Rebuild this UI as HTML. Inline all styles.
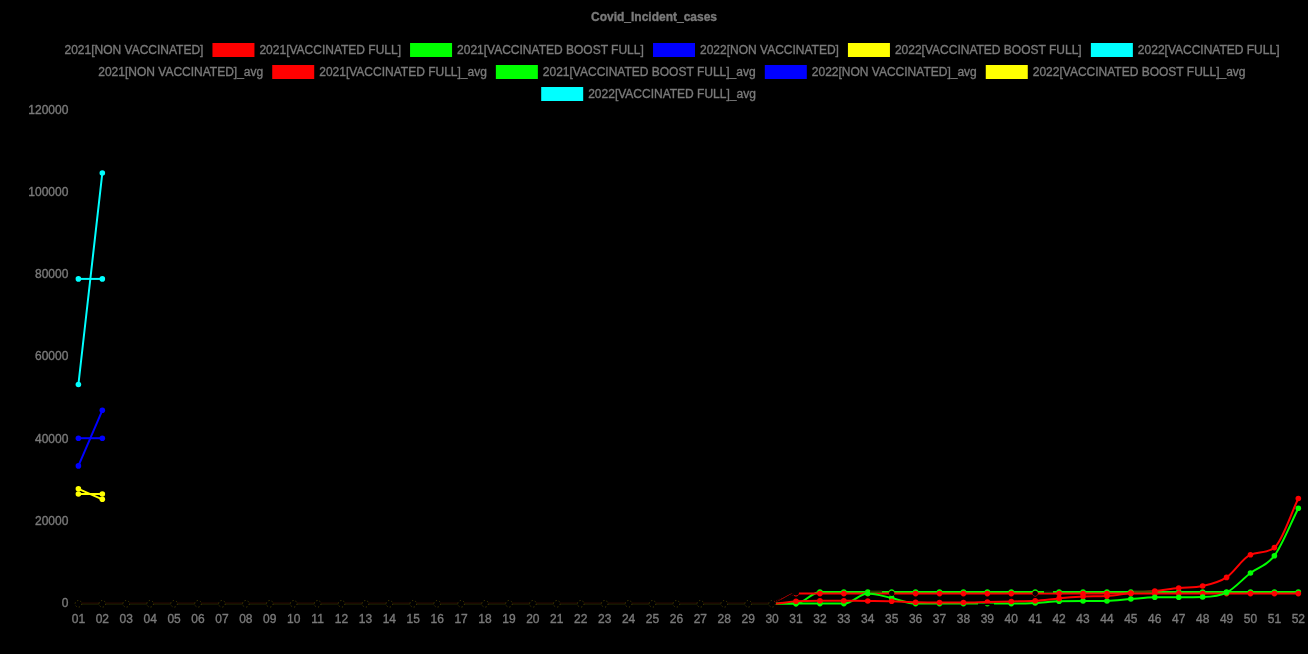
<!DOCTYPE html>
<html><head><meta charset="utf-8"><style>
html,body{margin:0;padding:0;background:#000;width:1308px;height:654px;overflow:hidden}
.wrap{position:absolute;left:0;top:0;width:1308px;height:654px;will-change:transform}
svg{display:block}
</style></head><body><div class="wrap">
<svg width="1308" height="654" viewBox="0 0 1308 654">
<rect width="1308" height="654" fill="#000"/>
<g font-family="Liberation Sans, sans-serif" font-size="12" fill="#7a7a7a" stroke="#7a7a7a" stroke-width="0.35">
<text x="654" y="21" text-anchor="middle" font-weight="bold">Covid_Incident_cases</text>
<text x="64.53" y="54">2021[NON VACCINATED]</text>
<rect x="212.45" y="43" width="42" height="14" fill="#ff0000" stroke="none"/>
<text x="259.45" y="54">2021[VACCINATED FULL]</text>
<rect x="410.06" y="43" width="42" height="14" fill="#00ff00" stroke="none"/>
<text x="457.06" y="54">2021[VACCINATED BOOST FULL]</text>
<rect x="653.00" y="43" width="42" height="14" fill="#0000ff" stroke="none"/>
<text x="700.00" y="54">2022[NON VACCINATED]</text>
<rect x="847.93" y="43" width="42" height="14" fill="#ffff00" stroke="none"/>
<text x="894.93" y="54">2022[VACCINATED BOOST FULL]</text>
<rect x="1090.87" y="43" width="42" height="14" fill="#00ffff" stroke="none"/>
<text x="1137.87" y="54">2022[VACCINATED FULL]</text>
<text x="98.28" y="76">2021[NON VACCINATED]_avg</text>
<rect x="272.22" y="65" width="42" height="14" fill="#ff0000" stroke="none"/>
<text x="319.22" y="76">2021[VACCINATED FULL]_avg</text>
<rect x="495.85" y="65" width="42" height="14" fill="#00ff00" stroke="none"/>
<text x="542.85" y="76">2021[VACCINATED BOOST FULL]_avg</text>
<rect x="764.81" y="65" width="42" height="14" fill="#0000ff" stroke="none"/>
<text x="811.81" y="76">2022[NON VACCINATED]_avg</text>
<rect x="985.76" y="65" width="42" height="14" fill="#ffff00" stroke="none"/>
<text x="1032.76" y="76">2022[VACCINATED BOOST FULL]_avg</text>
<rect x="541.19" y="87" width="42" height="14" fill="#00ffff" stroke="none"/>
<text x="588.19" y="98">2022[VACCINATED FULL]_avg</text>
<text x="68.4" y="114" text-anchor="end">120000</text>
<text x="68.4" y="196" text-anchor="end">100000</text>
<text x="68.4" y="278" text-anchor="end">80000</text>
<text x="68.4" y="360" text-anchor="end">60000</text>
<text x="68.4" y="443" text-anchor="end">40000</text>
<text x="68.4" y="525" text-anchor="end">20000</text>
<text x="68.4" y="607" text-anchor="end">0</text>
<text x="78.40" y="623" text-anchor="middle">01</text>
<text x="102.32" y="623" text-anchor="middle">02</text>
<text x="126.24" y="623" text-anchor="middle">03</text>
<text x="150.16" y="623" text-anchor="middle">04</text>
<text x="174.08" y="623" text-anchor="middle">05</text>
<text x="198.00" y="623" text-anchor="middle">06</text>
<text x="221.92" y="623" text-anchor="middle">07</text>
<text x="245.84" y="623" text-anchor="middle">08</text>
<text x="269.76" y="623" text-anchor="middle">09</text>
<text x="293.68" y="623" text-anchor="middle">10</text>
<text x="317.60" y="623" text-anchor="middle">11</text>
<text x="341.52" y="623" text-anchor="middle">12</text>
<text x="365.44" y="623" text-anchor="middle">13</text>
<text x="389.36" y="623" text-anchor="middle">14</text>
<text x="413.28" y="623" text-anchor="middle">15</text>
<text x="437.20" y="623" text-anchor="middle">16</text>
<text x="461.12" y="623" text-anchor="middle">17</text>
<text x="485.04" y="623" text-anchor="middle">18</text>
<text x="508.96" y="623" text-anchor="middle">19</text>
<text x="532.88" y="623" text-anchor="middle">20</text>
<text x="556.80" y="623" text-anchor="middle">21</text>
<text x="580.72" y="623" text-anchor="middle">22</text>
<text x="604.64" y="623" text-anchor="middle">23</text>
<text x="628.56" y="623" text-anchor="middle">24</text>
<text x="652.48" y="623" text-anchor="middle">25</text>
<text x="676.40" y="623" text-anchor="middle">26</text>
<text x="700.32" y="623" text-anchor="middle">27</text>
<text x="724.24" y="623" text-anchor="middle">28</text>
<text x="748.16" y="623" text-anchor="middle">29</text>
<text x="772.08" y="623" text-anchor="middle">30</text>
<text x="796.00" y="623" text-anchor="middle">31</text>
<text x="819.92" y="623" text-anchor="middle">32</text>
<text x="843.84" y="623" text-anchor="middle">33</text>
<text x="867.76" y="623" text-anchor="middle">34</text>
<text x="891.68" y="623" text-anchor="middle">35</text>
<text x="915.60" y="623" text-anchor="middle">36</text>
<text x="939.52" y="623" text-anchor="middle">37</text>
<text x="963.44" y="623" text-anchor="middle">38</text>
<text x="987.36" y="623" text-anchor="middle">39</text>
<text x="1011.28" y="623" text-anchor="middle">40</text>
<text x="1035.20" y="623" text-anchor="middle">41</text>
<text x="1059.12" y="623" text-anchor="middle">42</text>
<text x="1083.04" y="623" text-anchor="middle">43</text>
<text x="1106.96" y="623" text-anchor="middle">44</text>
<text x="1130.88" y="623" text-anchor="middle">45</text>
<text x="1154.80" y="623" text-anchor="middle">46</text>
<text x="1178.72" y="623" text-anchor="middle">47</text>
<text x="1202.64" y="623" text-anchor="middle">48</text>
<text x="1226.56" y="623" text-anchor="middle">49</text>
<text x="1250.48" y="623" text-anchor="middle">50</text>
<text x="1274.40" y="623" text-anchor="middle">51</text>
<text x="1298.32" y="623" text-anchor="middle">52</text>
</g>
<g>
<path d="M78.40,278.90 C86.37,278.90 94.35,278.90 102.32,278.90" fill="none" stroke="#00ffff" stroke-width="2" />
<circle cx="78.40" cy="278.90" r="2.8" fill="#00ffff"/>
<circle cx="102.32" cy="278.90" r="2.8" fill="#00ffff"/>
<path d="M78.40,494.00 C86.37,494.00 94.35,494.00 102.32,494.00" fill="none" stroke="#ffff00" stroke-width="2" />
<circle cx="78.40" cy="494.00" r="2.8" fill="#ffff00"/>
<circle cx="102.32" cy="494.00" r="2.8" fill="#ffff00"/>
<path d="M78.40,438.20 C86.37,438.20 94.35,438.20 102.32,438.20" fill="none" stroke="#0000ff" stroke-width="2" />
<circle cx="78.40" cy="438.20" r="2.8" fill="#0000ff"/>
<circle cx="102.32" cy="438.20" r="2.8" fill="#0000ff"/>
<path d="M78.40,603.60 C86.37,603.60 94.35,603.60 102.32,603.60 C110.29,603.60 118.27,603.60 126.24,603.60 C134.21,603.60 142.19,603.60 150.16,603.60 C158.13,603.60 166.11,603.60 174.08,603.60 C182.05,603.60 190.03,603.60 198.00,603.60 C205.97,603.60 213.95,603.60 221.92,603.60 C229.89,603.60 237.87,603.60 245.84,603.60 C253.81,603.60 261.79,603.60 269.76,603.60 C277.73,603.60 285.71,603.60 293.68,603.60 C301.65,603.60 309.63,603.60 317.60,603.60 C325.57,603.60 333.55,603.60 341.52,603.60 C349.49,603.60 357.47,603.60 365.44,603.60 C373.41,603.60 381.39,603.60 389.36,603.60 C397.33,603.60 405.31,603.60 413.28,603.60 C421.25,603.60 429.23,603.60 437.20,603.60 C445.17,603.60 453.15,603.60 461.12,603.60 C469.09,603.60 477.07,603.60 485.04,603.60 C493.01,603.60 500.99,603.60 508.96,603.60 C516.93,603.60 524.91,603.60 532.88,603.60 C540.85,603.60 548.83,603.60 556.80,603.60 C564.77,603.60 572.75,603.60 580.72,603.60 C588.69,603.60 596.67,603.60 604.64,603.60 C612.61,603.60 620.59,603.60 628.56,603.60 C636.53,603.60 644.51,603.60 652.48,603.60 C660.45,603.60 668.43,603.60 676.40,603.60 C684.37,603.60 692.35,603.60 700.32,603.60 C708.29,603.60 716.27,603.60 724.24,603.60 C732.21,603.60 740.19,603.60 748.16,603.60 C756.13,603.60 764.11,603.60 772.08,603.60 C780.05,603.60 788.03,603.60 796.00,603.60 C803.97,603.60 811.95,592.00 819.92,592.00 C827.89,592.00 835.87,592.00 843.84,592.00 C851.81,592.00 859.79,592.00 867.76,592.00 C875.73,592.00 883.71,592.00 891.68,592.00 C899.65,592.00 907.63,592.00 915.60,592.00 C923.57,592.00 931.55,592.00 939.52,592.00 C947.49,592.00 955.47,592.00 963.44,592.00 C971.41,592.00 979.39,592.00 987.36,592.00 C995.33,592.00 1003.31,592.00 1011.28,592.00 C1019.25,592.00 1027.23,592.00 1035.20,592.00 C1043.17,592.00 1051.15,592.00 1059.12,592.00 C1067.09,592.00 1075.07,592.00 1083.04,592.00 C1091.01,592.00 1098.99,592.00 1106.96,592.00 C1114.93,592.00 1122.91,592.00 1130.88,592.00 C1138.85,592.00 1146.83,592.00 1154.80,592.00 C1162.77,592.00 1170.75,592.00 1178.72,592.00 C1186.69,592.00 1194.67,592.00 1202.64,592.00 C1210.61,592.00 1218.59,592.00 1226.56,592.00 C1234.53,592.00 1242.51,592.00 1250.48,592.00 C1258.45,592.00 1266.43,592.00 1274.40,592.00 C1282.37,592.00 1290.35,592.00 1298.32,592.00" fill="none" stroke="#00ff00" stroke-width="2" />
<circle cx="78.40" cy="603.60" r="2.8" fill="#00ff00"/>
<circle cx="102.32" cy="603.60" r="2.8" fill="#00ff00"/>
<circle cx="126.24" cy="603.60" r="2.8" fill="#00ff00"/>
<circle cx="150.16" cy="603.60" r="2.8" fill="#00ff00"/>
<circle cx="174.08" cy="603.60" r="2.8" fill="#00ff00"/>
<circle cx="198.00" cy="603.60" r="2.8" fill="#00ff00"/>
<circle cx="221.92" cy="603.60" r="2.8" fill="#00ff00"/>
<circle cx="245.84" cy="603.60" r="2.8" fill="#00ff00"/>
<circle cx="269.76" cy="603.60" r="2.8" fill="#00ff00"/>
<circle cx="293.68" cy="603.60" r="2.8" fill="#00ff00"/>
<circle cx="317.60" cy="603.60" r="2.8" fill="#00ff00"/>
<circle cx="341.52" cy="603.60" r="2.8" fill="#00ff00"/>
<circle cx="365.44" cy="603.60" r="2.8" fill="#00ff00"/>
<circle cx="389.36" cy="603.60" r="2.8" fill="#00ff00"/>
<circle cx="413.28" cy="603.60" r="2.8" fill="#00ff00"/>
<circle cx="437.20" cy="603.60" r="2.8" fill="#00ff00"/>
<circle cx="461.12" cy="603.60" r="2.8" fill="#00ff00"/>
<circle cx="485.04" cy="603.60" r="2.8" fill="#00ff00"/>
<circle cx="508.96" cy="603.60" r="2.8" fill="#00ff00"/>
<circle cx="532.88" cy="603.60" r="2.8" fill="#00ff00"/>
<circle cx="556.80" cy="603.60" r="2.8" fill="#00ff00"/>
<circle cx="580.72" cy="603.60" r="2.8" fill="#00ff00"/>
<circle cx="604.64" cy="603.60" r="2.8" fill="#00ff00"/>
<circle cx="628.56" cy="603.60" r="2.8" fill="#00ff00"/>
<circle cx="652.48" cy="603.60" r="2.8" fill="#00ff00"/>
<circle cx="676.40" cy="603.60" r="2.8" fill="#00ff00"/>
<circle cx="700.32" cy="603.60" r="2.8" fill="#00ff00"/>
<circle cx="724.24" cy="603.60" r="2.8" fill="#00ff00"/>
<circle cx="748.16" cy="603.60" r="2.8" fill="#00ff00"/>
<circle cx="772.08" cy="603.60" r="2.8" fill="#00ff00"/>
<circle cx="796.00" cy="603.60" r="2.8" fill="#00ff00"/>
<circle cx="819.92" cy="592.00" r="2.8" fill="#00ff00"/>
<circle cx="843.84" cy="592.00" r="2.8" fill="#00ff00"/>
<circle cx="867.76" cy="592.00" r="2.8" fill="#00ff00"/>
<circle cx="891.68" cy="592.00" r="2.8" fill="#00ff00"/>
<circle cx="915.60" cy="592.00" r="2.8" fill="#00ff00"/>
<circle cx="939.52" cy="592.00" r="2.8" fill="#00ff00"/>
<circle cx="963.44" cy="592.00" r="2.8" fill="#00ff00"/>
<circle cx="987.36" cy="592.00" r="2.8" fill="#00ff00"/>
<circle cx="1011.28" cy="592.00" r="2.8" fill="#00ff00"/>
<circle cx="1035.20" cy="592.00" r="2.8" fill="#00ff00"/>
<circle cx="1059.12" cy="592.00" r="2.8" fill="#00ff00"/>
<circle cx="1083.04" cy="592.00" r="2.8" fill="#00ff00"/>
<circle cx="1106.96" cy="592.00" r="2.8" fill="#00ff00"/>
<circle cx="1130.88" cy="592.00" r="2.8" fill="#00ff00"/>
<circle cx="1154.80" cy="592.00" r="2.8" fill="#00ff00"/>
<circle cx="1178.72" cy="592.00" r="2.8" fill="#00ff00"/>
<circle cx="1202.64" cy="592.00" r="2.8" fill="#00ff00"/>
<circle cx="1226.56" cy="592.00" r="2.8" fill="#00ff00"/>
<circle cx="1250.48" cy="592.00" r="2.8" fill="#00ff00"/>
<circle cx="1274.40" cy="592.00" r="2.8" fill="#00ff00"/>
<circle cx="1298.32" cy="592.00" r="2.8" fill="#00ff00"/>
<path d="M78.40,603.60 C86.37,603.60 94.35,603.60 102.32,603.60 C110.29,603.60 118.27,603.60 126.24,603.60 C134.21,603.60 142.19,603.60 150.16,603.60 C158.13,603.60 166.11,603.60 174.08,603.60 C182.05,603.60 190.03,603.60 198.00,603.60 C205.97,603.60 213.95,603.60 221.92,603.60 C229.89,603.60 237.87,603.60 245.84,603.60 C253.81,603.60 261.79,603.60 269.76,603.60 C277.73,603.60 285.71,603.60 293.68,603.60 C301.65,603.60 309.63,603.60 317.60,603.60 C325.57,603.60 333.55,603.60 341.52,603.60 C349.49,603.60 357.47,603.60 365.44,603.60 C373.41,603.60 381.39,603.60 389.36,603.60 C397.33,603.60 405.31,603.60 413.28,603.60 C421.25,603.60 429.23,603.60 437.20,603.60 C445.17,603.60 453.15,603.60 461.12,603.60 C469.09,603.60 477.07,603.60 485.04,603.60 C493.01,603.60 500.99,603.60 508.96,603.60 C516.93,603.60 524.91,603.60 532.88,603.60 C540.85,603.60 548.83,603.60 556.80,603.60 C564.77,603.60 572.75,603.60 580.72,603.60 C588.69,603.60 596.67,603.60 604.64,603.60 C612.61,603.60 620.59,603.60 628.56,603.60 C636.53,603.60 644.51,603.60 652.48,603.60 C660.45,603.60 668.43,603.60 676.40,603.60 C684.37,603.60 692.35,603.60 700.32,603.60 C708.29,603.60 716.27,603.60 724.24,603.60 C732.21,603.60 740.19,603.60 748.16,603.60 C756.13,603.60 764.11,603.60 772.08,603.60 C780.05,603.60 788.03,593.60 796.00,593.60 C803.97,593.60 811.95,593.60 819.92,593.60 C827.89,593.60 835.87,593.60 843.84,593.60 C851.81,593.60 859.79,593.60 867.76,593.60 C875.73,593.60 883.71,593.60 891.68,593.60 C899.65,593.60 907.63,593.60 915.60,593.60 C923.57,593.60 931.55,593.60 939.52,593.60 C947.49,593.60 955.47,593.60 963.44,593.60 C971.41,593.60 979.39,593.60 987.36,593.60 C995.33,593.60 1003.31,593.60 1011.28,593.60 C1019.25,593.60 1027.23,593.60 1035.20,593.60 C1043.17,593.60 1051.15,593.60 1059.12,593.60 C1067.09,593.60 1075.07,593.60 1083.04,593.60 C1091.01,593.60 1098.99,593.60 1106.96,593.60 C1114.93,593.60 1122.91,593.60 1130.88,593.60 C1138.85,593.60 1146.83,593.60 1154.80,593.60 C1162.77,593.60 1170.75,593.60 1178.72,593.60 C1186.69,593.60 1194.67,593.60 1202.64,593.60 C1210.61,593.60 1218.59,593.60 1226.56,593.60 C1234.53,593.60 1242.51,593.60 1250.48,593.60 C1258.45,593.60 1266.43,593.60 1274.40,593.60 C1282.37,593.60 1290.35,593.60 1298.32,593.60" fill="none" stroke="#ff0000" stroke-width="2" />
<circle cx="78.40" cy="603.60" r="2.8" fill="#ff0000"/>
<circle cx="102.32" cy="603.60" r="2.8" fill="#ff0000"/>
<circle cx="126.24" cy="603.60" r="2.8" fill="#ff0000"/>
<circle cx="150.16" cy="603.60" r="2.8" fill="#ff0000"/>
<circle cx="174.08" cy="603.60" r="2.8" fill="#ff0000"/>
<circle cx="198.00" cy="603.60" r="2.8" fill="#ff0000"/>
<circle cx="221.92" cy="603.60" r="2.8" fill="#ff0000"/>
<circle cx="245.84" cy="603.60" r="2.8" fill="#ff0000"/>
<circle cx="269.76" cy="603.60" r="2.8" fill="#ff0000"/>
<circle cx="293.68" cy="603.60" r="2.8" fill="#ff0000"/>
<circle cx="317.60" cy="603.60" r="2.8" fill="#ff0000"/>
<circle cx="341.52" cy="603.60" r="2.8" fill="#ff0000"/>
<circle cx="365.44" cy="603.60" r="2.8" fill="#ff0000"/>
<circle cx="389.36" cy="603.60" r="2.8" fill="#ff0000"/>
<circle cx="413.28" cy="603.60" r="2.8" fill="#ff0000"/>
<circle cx="437.20" cy="603.60" r="2.8" fill="#ff0000"/>
<circle cx="461.12" cy="603.60" r="2.8" fill="#ff0000"/>
<circle cx="485.04" cy="603.60" r="2.8" fill="#ff0000"/>
<circle cx="508.96" cy="603.60" r="2.8" fill="#ff0000"/>
<circle cx="532.88" cy="603.60" r="2.8" fill="#ff0000"/>
<circle cx="556.80" cy="603.60" r="2.8" fill="#ff0000"/>
<circle cx="580.72" cy="603.60" r="2.8" fill="#ff0000"/>
<circle cx="604.64" cy="603.60" r="2.8" fill="#ff0000"/>
<circle cx="628.56" cy="603.60" r="2.8" fill="#ff0000"/>
<circle cx="652.48" cy="603.60" r="2.8" fill="#ff0000"/>
<circle cx="676.40" cy="603.60" r="2.8" fill="#ff0000"/>
<circle cx="700.32" cy="603.60" r="2.8" fill="#ff0000"/>
<circle cx="724.24" cy="603.60" r="2.8" fill="#ff0000"/>
<circle cx="748.16" cy="603.60" r="2.8" fill="#ff0000"/>
<circle cx="772.08" cy="603.60" r="2.8" fill="#ff0000"/>
<circle cx="796.00" cy="593.60" r="2.8" fill="#ff0000"/>
<circle cx="819.92" cy="593.60" r="2.8" fill="#ff0000"/>
<circle cx="843.84" cy="593.60" r="2.8" fill="#ff0000"/>
<circle cx="867.76" cy="593.60" r="2.8" fill="#ff0000"/>
<circle cx="891.68" cy="593.60" r="2.8" fill="#ff0000"/>
<circle cx="915.60" cy="593.60" r="2.8" fill="#ff0000"/>
<circle cx="939.52" cy="593.60" r="2.8" fill="#ff0000"/>
<circle cx="963.44" cy="593.60" r="2.8" fill="#ff0000"/>
<circle cx="987.36" cy="593.60" r="2.8" fill="#ff0000"/>
<circle cx="1011.28" cy="593.60" r="2.8" fill="#ff0000"/>
<circle cx="1035.20" cy="593.60" r="2.8" fill="#ff0000"/>
<circle cx="1059.12" cy="593.60" r="2.8" fill="#ff0000"/>
<circle cx="1083.04" cy="593.60" r="2.8" fill="#ff0000"/>
<circle cx="1106.96" cy="593.60" r="2.8" fill="#ff0000"/>
<circle cx="1130.88" cy="593.60" r="2.8" fill="#ff0000"/>
<circle cx="1154.80" cy="593.60" r="2.8" fill="#ff0000"/>
<circle cx="1178.72" cy="593.60" r="2.8" fill="#ff0000"/>
<circle cx="1202.64" cy="593.60" r="2.8" fill="#ff0000"/>
<circle cx="1226.56" cy="593.60" r="2.8" fill="#ff0000"/>
<circle cx="1250.48" cy="593.60" r="2.8" fill="#ff0000"/>
<circle cx="1274.40" cy="593.60" r="2.8" fill="#ff0000"/>
<circle cx="1298.32" cy="593.60" r="2.8" fill="#ff0000"/>
<path d="M78.40,603.60 C86.37,603.60 94.35,603.60 102.32,603.60 C110.29,603.60 118.27,603.60 126.24,603.60 C134.21,603.60 142.19,603.60 150.16,603.60 C158.13,603.60 166.11,603.60 174.08,603.60 C182.05,603.60 190.03,603.60 198.00,603.60 C205.97,603.60 213.95,603.60 221.92,603.60 C229.89,603.60 237.87,603.60 245.84,603.60 C253.81,603.60 261.79,603.60 269.76,603.60 C277.73,603.60 285.71,603.60 293.68,603.60 C301.65,603.60 309.63,603.60 317.60,603.60 C325.57,603.60 333.55,603.60 341.52,603.60 C349.49,603.60 357.47,603.60 365.44,603.60 C373.41,603.60 381.39,603.60 389.36,603.60 C397.33,603.60 405.31,603.60 413.28,603.60 C421.25,603.60 429.23,603.60 437.20,603.60 C445.17,603.60 453.15,603.60 461.12,603.60 C469.09,603.60 477.07,603.60 485.04,603.60 C493.01,603.60 500.99,603.60 508.96,603.60 C516.93,603.60 524.91,603.60 532.88,603.60 C540.85,603.60 548.83,603.60 556.80,603.60 C564.77,603.60 572.75,603.60 580.72,603.60 C588.69,603.60 596.67,603.60 604.64,603.60 C612.61,603.60 620.59,603.60 628.56,603.60 C636.53,603.60 644.51,603.60 652.48,603.60 C660.45,603.60 668.43,603.60 676.40,603.60 C684.37,603.60 692.35,603.60 700.32,603.60 C708.29,603.60 716.27,603.60 724.24,603.60 C732.21,603.60 740.19,603.60 748.16,603.60 C756.13,603.60 764.11,603.60 772.08,603.60 C780.05,603.60 788.03,596.13 796.00,592.40" fill="none" stroke="#000" stroke-width="2" />
<circle cx="78.40" cy="603.60" r="3" fill="#000"/>
<circle cx="102.32" cy="603.60" r="3" fill="#000"/>
<circle cx="126.24" cy="603.60" r="3" fill="#000"/>
<circle cx="150.16" cy="603.60" r="3" fill="#000"/>
<circle cx="174.08" cy="603.60" r="3" fill="#000"/>
<circle cx="198.00" cy="603.60" r="3" fill="#000"/>
<circle cx="221.92" cy="603.60" r="3" fill="#000"/>
<circle cx="245.84" cy="603.60" r="3" fill="#000"/>
<circle cx="269.76" cy="603.60" r="3" fill="#000"/>
<circle cx="293.68" cy="603.60" r="3" fill="#000"/>
<circle cx="317.60" cy="603.60" r="3" fill="#000"/>
<circle cx="341.52" cy="603.60" r="3" fill="#000"/>
<circle cx="365.44" cy="603.60" r="3" fill="#000"/>
<circle cx="389.36" cy="603.60" r="3" fill="#000"/>
<circle cx="413.28" cy="603.60" r="3" fill="#000"/>
<circle cx="437.20" cy="603.60" r="3" fill="#000"/>
<circle cx="461.12" cy="603.60" r="3" fill="#000"/>
<circle cx="485.04" cy="603.60" r="3" fill="#000"/>
<circle cx="508.96" cy="603.60" r="3" fill="#000"/>
<circle cx="532.88" cy="603.60" r="3" fill="#000"/>
<circle cx="556.80" cy="603.60" r="3" fill="#000"/>
<circle cx="580.72" cy="603.60" r="3" fill="#000"/>
<circle cx="604.64" cy="603.60" r="3" fill="#000"/>
<circle cx="628.56" cy="603.60" r="3" fill="#000"/>
<circle cx="652.48" cy="603.60" r="3" fill="#000"/>
<circle cx="676.40" cy="603.60" r="3" fill="#000"/>
<circle cx="700.32" cy="603.60" r="3" fill="#000"/>
<circle cx="724.24" cy="603.60" r="3" fill="#000"/>
<circle cx="748.16" cy="603.60" r="3" fill="#000"/>
<circle cx="772.08" cy="603.60" r="3" fill="#000"/>
<circle cx="796.00" cy="592.40" r="3" fill="#000"/>
<path d="M78.40,384.50 C86.37,314.00 94.35,243.50 102.32,173.00" fill="none" stroke="#00ffff" stroke-width="2" />
<circle cx="78.40" cy="384.50" r="2.8" fill="#00ffff"/>
<circle cx="102.32" cy="173.00" r="2.8" fill="#00ffff"/>
<path d="M78.40,488.80 C86.37,492.30 94.35,495.80 102.32,499.30" fill="none" stroke="#ffff00" stroke-width="2" />
<circle cx="78.40" cy="488.80" r="2.8" fill="#ffff00"/>
<circle cx="102.32" cy="499.30" r="2.8" fill="#ffff00"/>
<path d="M78.40,465.90 C86.37,447.37 94.35,428.83 102.32,410.30" fill="none" stroke="#0000ff" stroke-width="2" />
<circle cx="78.40" cy="465.90" r="2.8" fill="#0000ff"/>
<circle cx="102.32" cy="410.30" r="2.8" fill="#0000ff"/>
<path d="M78.40,603.60 C86.37,603.60 94.35,603.60 102.32,603.60 C110.29,603.60 118.27,603.60 126.24,603.60 C134.21,603.60 142.19,603.60 150.16,603.60 C158.13,603.60 166.11,603.60 174.08,603.60 C182.05,603.60 190.03,603.60 198.00,603.60 C205.97,603.60 213.95,603.60 221.92,603.60 C229.89,603.60 237.87,603.60 245.84,603.60 C253.81,603.60 261.79,603.60 269.76,603.60 C277.73,603.60 285.71,603.60 293.68,603.60 C301.65,603.60 309.63,603.60 317.60,603.60 C325.57,603.60 333.55,603.60 341.52,603.60 C349.49,603.60 357.47,603.60 365.44,603.60 C373.41,603.60 381.39,603.60 389.36,603.60 C397.33,603.60 405.31,603.60 413.28,603.60 C421.25,603.60 429.23,603.60 437.20,603.60 C445.17,603.60 453.15,603.60 461.12,603.60 C469.09,603.60 477.07,603.60 485.04,603.60 C493.01,603.60 500.99,603.60 508.96,603.60 C516.93,603.60 524.91,603.60 532.88,603.60 C540.85,603.60 548.83,603.60 556.80,603.60 C564.77,603.60 572.75,603.60 580.72,603.60 C588.69,603.60 596.67,603.60 604.64,603.60 C612.61,603.60 620.59,603.60 628.56,603.60 C636.53,603.60 644.51,603.60 652.48,603.60 C660.45,603.60 668.43,603.60 676.40,603.60 C684.37,603.60 692.35,603.60 700.32,603.60 C708.29,603.60 716.27,603.60 724.24,603.60 C732.21,603.60 740.19,603.60 748.16,603.60 C756.13,603.60 764.11,603.60 772.08,603.60 C780.05,603.60 788.03,603.60 796.00,603.60 C803.97,603.60 811.95,603.60 819.92,603.60 C827.89,603.60 835.87,603.60 843.84,603.60 C851.81,603.60 859.79,593.50 867.76,593.50 C875.73,593.50 883.71,596.32 891.68,598.00 C899.65,599.68 907.63,603.60 915.60,603.60 C923.57,603.60 931.55,603.60 939.52,603.60 C947.49,603.60 955.47,603.60 963.44,603.60 C971.41,603.60 979.39,603.60 987.36,603.60 C995.33,603.60 1003.31,603.60 1011.28,603.60 C1019.25,603.60 1027.23,603.40 1035.20,603.00 C1043.17,602.60 1051.15,601.40 1059.12,601.20 C1067.09,601.00 1075.07,601.00 1083.04,601.00 C1091.01,601.00 1098.99,601.00 1106.96,601.00 C1114.93,601.00 1122.91,599.62 1130.88,599.00 C1138.85,598.38 1146.83,597.40 1154.80,597.30 C1162.77,597.20 1170.75,597.20 1178.72,597.20 C1186.69,597.20 1194.67,597.20 1202.64,597.00 C1210.61,596.80 1218.59,596.60 1226.56,592.60 C1234.53,588.60 1242.51,579.15 1250.48,573.00 C1258.45,566.85 1266.43,566.50 1274.40,555.70 C1282.37,544.90 1290.35,524.03 1298.32,508.20" fill="none" stroke="#00ff00" stroke-width="2" />
<circle cx="78.40" cy="603.60" r="2.8" fill="#00ff00"/>
<circle cx="102.32" cy="603.60" r="2.8" fill="#00ff00"/>
<circle cx="126.24" cy="603.60" r="2.8" fill="#00ff00"/>
<circle cx="150.16" cy="603.60" r="2.8" fill="#00ff00"/>
<circle cx="174.08" cy="603.60" r="2.8" fill="#00ff00"/>
<circle cx="198.00" cy="603.60" r="2.8" fill="#00ff00"/>
<circle cx="221.92" cy="603.60" r="2.8" fill="#00ff00"/>
<circle cx="245.84" cy="603.60" r="2.8" fill="#00ff00"/>
<circle cx="269.76" cy="603.60" r="2.8" fill="#00ff00"/>
<circle cx="293.68" cy="603.60" r="2.8" fill="#00ff00"/>
<circle cx="317.60" cy="603.60" r="2.8" fill="#00ff00"/>
<circle cx="341.52" cy="603.60" r="2.8" fill="#00ff00"/>
<circle cx="365.44" cy="603.60" r="2.8" fill="#00ff00"/>
<circle cx="389.36" cy="603.60" r="2.8" fill="#00ff00"/>
<circle cx="413.28" cy="603.60" r="2.8" fill="#00ff00"/>
<circle cx="437.20" cy="603.60" r="2.8" fill="#00ff00"/>
<circle cx="461.12" cy="603.60" r="2.8" fill="#00ff00"/>
<circle cx="485.04" cy="603.60" r="2.8" fill="#00ff00"/>
<circle cx="508.96" cy="603.60" r="2.8" fill="#00ff00"/>
<circle cx="532.88" cy="603.60" r="2.8" fill="#00ff00"/>
<circle cx="556.80" cy="603.60" r="2.8" fill="#00ff00"/>
<circle cx="580.72" cy="603.60" r="2.8" fill="#00ff00"/>
<circle cx="604.64" cy="603.60" r="2.8" fill="#00ff00"/>
<circle cx="628.56" cy="603.60" r="2.8" fill="#00ff00"/>
<circle cx="652.48" cy="603.60" r="2.8" fill="#00ff00"/>
<circle cx="676.40" cy="603.60" r="2.8" fill="#00ff00"/>
<circle cx="700.32" cy="603.60" r="2.8" fill="#00ff00"/>
<circle cx="724.24" cy="603.60" r="2.8" fill="#00ff00"/>
<circle cx="748.16" cy="603.60" r="2.8" fill="#00ff00"/>
<circle cx="772.08" cy="603.60" r="2.8" fill="#00ff00"/>
<circle cx="796.00" cy="603.60" r="2.8" fill="#00ff00"/>
<circle cx="819.92" cy="603.60" r="2.8" fill="#00ff00"/>
<circle cx="843.84" cy="603.60" r="2.8" fill="#00ff00"/>
<circle cx="867.76" cy="593.50" r="2.8" fill="#00ff00"/>
<circle cx="891.68" cy="598.00" r="2.8" fill="#00ff00"/>
<circle cx="915.60" cy="603.60" r="2.8" fill="#00ff00"/>
<circle cx="939.52" cy="603.60" r="2.8" fill="#00ff00"/>
<circle cx="963.44" cy="603.60" r="2.8" fill="#00ff00"/>
<circle cx="987.36" cy="603.60" r="2.8" fill="#00ff00"/>
<circle cx="1011.28" cy="603.60" r="2.8" fill="#00ff00"/>
<circle cx="1035.20" cy="603.00" r="2.8" fill="#00ff00"/>
<circle cx="1059.12" cy="601.20" r="2.8" fill="#00ff00"/>
<circle cx="1083.04" cy="601.00" r="2.8" fill="#00ff00"/>
<circle cx="1106.96" cy="601.00" r="2.8" fill="#00ff00"/>
<circle cx="1130.88" cy="599.00" r="2.8" fill="#00ff00"/>
<circle cx="1154.80" cy="597.30" r="2.8" fill="#00ff00"/>
<circle cx="1178.72" cy="597.20" r="2.8" fill="#00ff00"/>
<circle cx="1202.64" cy="597.00" r="2.8" fill="#00ff00"/>
<circle cx="1226.56" cy="592.60" r="2.8" fill="#00ff00"/>
<circle cx="1250.48" cy="573.00" r="2.8" fill="#00ff00"/>
<circle cx="1274.40" cy="555.70" r="2.8" fill="#00ff00"/>
<circle cx="1298.32" cy="508.20" r="2.8" fill="#00ff00"/>
<path d="M78.40,603.60 C86.37,603.60 94.35,603.60 102.32,603.60 C110.29,603.60 118.27,603.60 126.24,603.60 C134.21,603.60 142.19,603.60 150.16,603.60 C158.13,603.60 166.11,603.60 174.08,603.60 C182.05,603.60 190.03,603.60 198.00,603.60 C205.97,603.60 213.95,603.60 221.92,603.60 C229.89,603.60 237.87,603.60 245.84,603.60 C253.81,603.60 261.79,603.60 269.76,603.60 C277.73,603.60 285.71,603.60 293.68,603.60 C301.65,603.60 309.63,603.60 317.60,603.60 C325.57,603.60 333.55,603.60 341.52,603.60 C349.49,603.60 357.47,603.60 365.44,603.60 C373.41,603.60 381.39,603.60 389.36,603.60 C397.33,603.60 405.31,603.60 413.28,603.60 C421.25,603.60 429.23,603.60 437.20,603.60 C445.17,603.60 453.15,603.60 461.12,603.60 C469.09,603.60 477.07,603.60 485.04,603.60 C493.01,603.60 500.99,603.60 508.96,603.60 C516.93,603.60 524.91,603.60 532.88,603.60 C540.85,603.60 548.83,603.60 556.80,603.60 C564.77,603.60 572.75,603.60 580.72,603.60 C588.69,603.60 596.67,603.60 604.64,603.60 C612.61,603.60 620.59,603.60 628.56,603.60 C636.53,603.60 644.51,603.60 652.48,603.60 C660.45,603.60 668.43,603.60 676.40,603.60 C684.37,603.60 692.35,603.60 700.32,603.60 C708.29,603.60 716.27,603.60 724.24,603.60 C732.21,603.60 740.19,603.60 748.16,603.60 C756.13,603.60 764.11,603.60 772.08,603.60 C780.05,603.60 788.03,601.77 796.00,601.30 C803.97,600.83 811.95,600.80 819.92,600.80 C827.89,600.80 835.87,600.80 843.84,600.80 C851.81,600.80 859.79,600.92 867.76,601.00 C875.73,601.08 883.71,601.10 891.68,601.30 C899.65,601.50 907.63,602.00 915.60,602.20 C923.57,602.40 931.55,602.50 939.52,602.50 C947.49,602.50 955.47,602.50 963.44,602.50 C971.41,602.50 979.39,602.17 987.36,602.00 C995.33,601.83 1003.31,601.70 1011.28,601.50 C1019.25,601.30 1027.23,601.32 1035.20,600.80 C1043.17,600.28 1051.15,599.12 1059.12,598.40 C1067.09,597.68 1075.07,596.72 1083.04,596.50 C1091.01,596.28 1098.99,596.43 1106.96,596.10 C1114.93,595.77 1122.91,593.85 1130.88,593.00 C1138.85,592.15 1146.83,591.83 1154.80,591.00 C1162.77,590.17 1170.75,588.83 1178.72,588.00 C1186.69,587.17 1194.67,587.77 1202.64,586.00 C1210.61,584.23 1218.59,582.62 1226.56,577.40 C1234.53,572.18 1242.51,558.03 1250.48,554.70 C1258.45,551.37 1266.43,553.87 1274.40,547.60 C1282.37,541.33 1290.35,514.87 1298.32,498.50" fill="none" stroke="#ff0000" stroke-width="2" />
<circle cx="78.40" cy="603.60" r="2.8" fill="#ff0000"/>
<circle cx="102.32" cy="603.60" r="2.8" fill="#ff0000"/>
<circle cx="126.24" cy="603.60" r="2.8" fill="#ff0000"/>
<circle cx="150.16" cy="603.60" r="2.8" fill="#ff0000"/>
<circle cx="174.08" cy="603.60" r="2.8" fill="#ff0000"/>
<circle cx="198.00" cy="603.60" r="2.8" fill="#ff0000"/>
<circle cx="221.92" cy="603.60" r="2.8" fill="#ff0000"/>
<circle cx="245.84" cy="603.60" r="2.8" fill="#ff0000"/>
<circle cx="269.76" cy="603.60" r="2.8" fill="#ff0000"/>
<circle cx="293.68" cy="603.60" r="2.8" fill="#ff0000"/>
<circle cx="317.60" cy="603.60" r="2.8" fill="#ff0000"/>
<circle cx="341.52" cy="603.60" r="2.8" fill="#ff0000"/>
<circle cx="365.44" cy="603.60" r="2.8" fill="#ff0000"/>
<circle cx="389.36" cy="603.60" r="2.8" fill="#ff0000"/>
<circle cx="413.28" cy="603.60" r="2.8" fill="#ff0000"/>
<circle cx="437.20" cy="603.60" r="2.8" fill="#ff0000"/>
<circle cx="461.12" cy="603.60" r="2.8" fill="#ff0000"/>
<circle cx="485.04" cy="603.60" r="2.8" fill="#ff0000"/>
<circle cx="508.96" cy="603.60" r="2.8" fill="#ff0000"/>
<circle cx="532.88" cy="603.60" r="2.8" fill="#ff0000"/>
<circle cx="556.80" cy="603.60" r="2.8" fill="#ff0000"/>
<circle cx="580.72" cy="603.60" r="2.8" fill="#ff0000"/>
<circle cx="604.64" cy="603.60" r="2.8" fill="#ff0000"/>
<circle cx="628.56" cy="603.60" r="2.8" fill="#ff0000"/>
<circle cx="652.48" cy="603.60" r="2.8" fill="#ff0000"/>
<circle cx="676.40" cy="603.60" r="2.8" fill="#ff0000"/>
<circle cx="700.32" cy="603.60" r="2.8" fill="#ff0000"/>
<circle cx="724.24" cy="603.60" r="2.8" fill="#ff0000"/>
<circle cx="748.16" cy="603.60" r="2.8" fill="#ff0000"/>
<circle cx="772.08" cy="603.60" r="2.8" fill="#ff0000"/>
<circle cx="796.00" cy="601.30" r="2.8" fill="#ff0000"/>
<circle cx="819.92" cy="600.80" r="2.8" fill="#ff0000"/>
<circle cx="843.84" cy="600.80" r="2.8" fill="#ff0000"/>
<circle cx="867.76" cy="601.00" r="2.8" fill="#ff0000"/>
<circle cx="891.68" cy="601.30" r="2.8" fill="#ff0000"/>
<circle cx="915.60" cy="602.20" r="2.8" fill="#ff0000"/>
<circle cx="939.52" cy="602.50" r="2.8" fill="#ff0000"/>
<circle cx="963.44" cy="602.50" r="2.8" fill="#ff0000"/>
<circle cx="987.36" cy="602.00" r="2.8" fill="#ff0000"/>
<circle cx="1011.28" cy="601.50" r="2.8" fill="#ff0000"/>
<circle cx="1035.20" cy="600.80" r="2.8" fill="#ff0000"/>
<circle cx="1059.12" cy="598.40" r="2.8" fill="#ff0000"/>
<circle cx="1083.04" cy="596.50" r="2.8" fill="#ff0000"/>
<circle cx="1106.96" cy="596.10" r="2.8" fill="#ff0000"/>
<circle cx="1130.88" cy="593.00" r="2.8" fill="#ff0000"/>
<circle cx="1154.80" cy="591.00" r="2.8" fill="#ff0000"/>
<circle cx="1178.72" cy="588.00" r="2.8" fill="#ff0000"/>
<circle cx="1202.64" cy="586.00" r="2.8" fill="#ff0000"/>
<circle cx="1226.56" cy="577.40" r="2.8" fill="#ff0000"/>
<circle cx="1250.48" cy="554.70" r="2.8" fill="#ff0000"/>
<circle cx="1274.40" cy="547.60" r="2.8" fill="#ff0000"/>
<circle cx="1298.32" cy="498.50" r="2.8" fill="#ff0000"/>
<path d="M78.40,603.60 C86.37,603.60 94.35,603.60 102.32,603.60 C110.29,603.60 118.27,603.60 126.24,603.60 C134.21,603.60 142.19,603.60 150.16,603.60 C158.13,603.60 166.11,603.60 174.08,603.60 C182.05,603.60 190.03,603.60 198.00,603.60 C205.97,603.60 213.95,603.60 221.92,603.60 C229.89,603.60 237.87,603.60 245.84,603.60 C253.81,603.60 261.79,603.60 269.76,603.60 C277.73,603.60 285.71,603.60 293.68,603.60 C301.65,603.60 309.63,603.60 317.60,603.60 C325.57,603.60 333.55,603.60 341.52,603.60 C349.49,603.60 357.47,603.60 365.44,603.60 C373.41,603.60 381.39,603.60 389.36,603.60 C397.33,603.60 405.31,603.60 413.28,603.60 C421.25,603.60 429.23,603.60 437.20,603.60 C445.17,603.60 453.15,603.60 461.12,603.60 C469.09,603.60 477.07,603.60 485.04,603.60 C493.01,603.60 500.99,603.60 508.96,603.60 C516.93,603.60 524.91,603.60 532.88,603.60 C540.85,603.60 548.83,603.60 556.80,603.60 C564.77,603.60 572.75,603.60 580.72,603.60 C588.69,603.60 596.67,603.60 604.64,603.60 C612.61,603.60 620.59,603.60 628.56,603.60 C636.53,603.60 644.51,603.60 652.48,603.60 C660.45,603.60 668.43,603.60 676.40,603.60 C684.37,603.60 692.35,603.60 700.32,603.60 C708.29,603.60 716.27,603.60 724.24,603.60 C732.21,603.60 740.19,603.60 748.16,603.60 C756.13,603.60 764.11,603.60 772.08,603.60" fill="none" stroke="#000" stroke-width="3.2" />
<circle cx="78.40" cy="603.60" r="3.8" fill="#000"/>
<circle cx="102.32" cy="603.60" r="3.8" fill="#000"/>
<circle cx="126.24" cy="603.60" r="3.8" fill="#000"/>
<circle cx="150.16" cy="603.60" r="3.8" fill="#000"/>
<circle cx="174.08" cy="603.60" r="3.8" fill="#000"/>
<circle cx="198.00" cy="603.60" r="3.8" fill="#000"/>
<circle cx="221.92" cy="603.60" r="3.8" fill="#000"/>
<circle cx="245.84" cy="603.60" r="3.8" fill="#000"/>
<circle cx="269.76" cy="603.60" r="3.8" fill="#000"/>
<circle cx="293.68" cy="603.60" r="3.8" fill="#000"/>
<circle cx="317.60" cy="603.60" r="3.8" fill="#000"/>
<circle cx="341.52" cy="603.60" r="3.8" fill="#000"/>
<circle cx="365.44" cy="603.60" r="3.8" fill="#000"/>
<circle cx="389.36" cy="603.60" r="3.8" fill="#000"/>
<circle cx="413.28" cy="603.60" r="3.8" fill="#000"/>
<circle cx="437.20" cy="603.60" r="3.8" fill="#000"/>
<circle cx="461.12" cy="603.60" r="3.8" fill="#000"/>
<circle cx="485.04" cy="603.60" r="3.8" fill="#000"/>
<circle cx="508.96" cy="603.60" r="3.8" fill="#000"/>
<circle cx="532.88" cy="603.60" r="3.8" fill="#000"/>
<circle cx="556.80" cy="603.60" r="3.8" fill="#000"/>
<circle cx="580.72" cy="603.60" r="3.8" fill="#000"/>
<circle cx="604.64" cy="603.60" r="3.8" fill="#000"/>
<circle cx="628.56" cy="603.60" r="3.8" fill="#000"/>
<circle cx="652.48" cy="603.60" r="3.8" fill="#000"/>
<circle cx="676.40" cy="603.60" r="3.8" fill="#000"/>
<circle cx="700.32" cy="603.60" r="3.8" fill="#000"/>
<circle cx="724.24" cy="603.60" r="3.8" fill="#000"/>
<circle cx="748.16" cy="603.60" r="3.8" fill="#000"/>
<circle cx="772.08" cy="603.60" r="3.8" fill="#000"/>
<line x1="78.40" y1="603.1" x2="772.08" y2="603.1" stroke="rgb(50,8,0)" stroke-width="1"/>
<line x1="78.40" y1="604.2" x2="772.08" y2="604.2" stroke="rgb(25,32,0)" stroke-width="1"/>
<circle cx="78.40" cy="603.8" r="3.3" fill="#000"/>
<circle cx="78.40" cy="603.8" r="3.3" fill="none" stroke="rgb(80,70,0)" stroke-width="0.9" stroke-dasharray="1.2 2.25"/>
<circle cx="102.32" cy="603.8" r="3.3" fill="#000"/>
<circle cx="102.32" cy="603.8" r="3.3" fill="none" stroke="rgb(80,70,0)" stroke-width="0.9" stroke-dasharray="1.2 2.25"/>
<circle cx="126.24" cy="603.8" r="3.3" fill="#000"/>
<circle cx="126.24" cy="603.8" r="3.3" fill="none" stroke="rgb(80,70,0)" stroke-width="0.9" stroke-dasharray="1.2 2.25"/>
<circle cx="150.16" cy="603.8" r="3.3" fill="#000"/>
<circle cx="150.16" cy="603.8" r="3.3" fill="none" stroke="rgb(80,70,0)" stroke-width="0.9" stroke-dasharray="1.2 2.25"/>
<circle cx="174.08" cy="603.8" r="3.3" fill="#000"/>
<circle cx="174.08" cy="603.8" r="3.3" fill="none" stroke="rgb(80,70,0)" stroke-width="0.9" stroke-dasharray="1.2 2.25"/>
<circle cx="198.00" cy="603.8" r="3.3" fill="#000"/>
<circle cx="198.00" cy="603.8" r="3.3" fill="none" stroke="rgb(80,70,0)" stroke-width="0.9" stroke-dasharray="1.2 2.25"/>
<circle cx="221.92" cy="603.8" r="3.3" fill="#000"/>
<circle cx="221.92" cy="603.8" r="3.3" fill="none" stroke="rgb(80,70,0)" stroke-width="0.9" stroke-dasharray="1.2 2.25"/>
<circle cx="245.84" cy="603.8" r="3.3" fill="#000"/>
<circle cx="245.84" cy="603.8" r="3.3" fill="none" stroke="rgb(80,70,0)" stroke-width="0.9" stroke-dasharray="1.2 2.25"/>
<circle cx="269.76" cy="603.8" r="3.3" fill="#000"/>
<circle cx="269.76" cy="603.8" r="3.3" fill="none" stroke="rgb(80,70,0)" stroke-width="0.9" stroke-dasharray="1.2 2.25"/>
<circle cx="293.68" cy="603.8" r="3.3" fill="#000"/>
<circle cx="293.68" cy="603.8" r="3.3" fill="none" stroke="rgb(80,70,0)" stroke-width="0.9" stroke-dasharray="1.2 2.25"/>
<circle cx="317.60" cy="603.8" r="3.3" fill="#000"/>
<circle cx="317.60" cy="603.8" r="3.3" fill="none" stroke="rgb(80,70,0)" stroke-width="0.9" stroke-dasharray="1.2 2.25"/>
<circle cx="341.52" cy="603.8" r="3.3" fill="#000"/>
<circle cx="341.52" cy="603.8" r="3.3" fill="none" stroke="rgb(80,70,0)" stroke-width="0.9" stroke-dasharray="1.2 2.25"/>
<circle cx="365.44" cy="603.8" r="3.3" fill="#000"/>
<circle cx="365.44" cy="603.8" r="3.3" fill="none" stroke="rgb(80,70,0)" stroke-width="0.9" stroke-dasharray="1.2 2.25"/>
<circle cx="389.36" cy="603.8" r="3.3" fill="#000"/>
<circle cx="389.36" cy="603.8" r="3.3" fill="none" stroke="rgb(80,70,0)" stroke-width="0.9" stroke-dasharray="1.2 2.25"/>
<circle cx="413.28" cy="603.8" r="3.3" fill="#000"/>
<circle cx="413.28" cy="603.8" r="3.3" fill="none" stroke="rgb(80,70,0)" stroke-width="0.9" stroke-dasharray="1.2 2.25"/>
<circle cx="437.20" cy="603.8" r="3.3" fill="#000"/>
<circle cx="437.20" cy="603.8" r="3.3" fill="none" stroke="rgb(80,70,0)" stroke-width="0.9" stroke-dasharray="1.2 2.25"/>
<circle cx="461.12" cy="603.8" r="3.3" fill="#000"/>
<circle cx="461.12" cy="603.8" r="3.3" fill="none" stroke="rgb(80,70,0)" stroke-width="0.9" stroke-dasharray="1.2 2.25"/>
<circle cx="485.04" cy="603.8" r="3.3" fill="#000"/>
<circle cx="485.04" cy="603.8" r="3.3" fill="none" stroke="rgb(80,70,0)" stroke-width="0.9" stroke-dasharray="1.2 2.25"/>
<circle cx="508.96" cy="603.8" r="3.3" fill="#000"/>
<circle cx="508.96" cy="603.8" r="3.3" fill="none" stroke="rgb(80,70,0)" stroke-width="0.9" stroke-dasharray="1.2 2.25"/>
<circle cx="532.88" cy="603.8" r="3.3" fill="#000"/>
<circle cx="532.88" cy="603.8" r="3.3" fill="none" stroke="rgb(80,70,0)" stroke-width="0.9" stroke-dasharray="1.2 2.25"/>
<circle cx="556.80" cy="603.8" r="3.3" fill="#000"/>
<circle cx="556.80" cy="603.8" r="3.3" fill="none" stroke="rgb(80,70,0)" stroke-width="0.9" stroke-dasharray="1.2 2.25"/>
<circle cx="580.72" cy="603.8" r="3.3" fill="#000"/>
<circle cx="580.72" cy="603.8" r="3.3" fill="none" stroke="rgb(80,70,0)" stroke-width="0.9" stroke-dasharray="1.2 2.25"/>
<circle cx="604.64" cy="603.8" r="3.3" fill="#000"/>
<circle cx="604.64" cy="603.8" r="3.3" fill="none" stroke="rgb(80,70,0)" stroke-width="0.9" stroke-dasharray="1.2 2.25"/>
<circle cx="628.56" cy="603.8" r="3.3" fill="#000"/>
<circle cx="628.56" cy="603.8" r="3.3" fill="none" stroke="rgb(80,70,0)" stroke-width="0.9" stroke-dasharray="1.2 2.25"/>
<circle cx="652.48" cy="603.8" r="3.3" fill="#000"/>
<circle cx="652.48" cy="603.8" r="3.3" fill="none" stroke="rgb(80,70,0)" stroke-width="0.9" stroke-dasharray="1.2 2.25"/>
<circle cx="676.40" cy="603.8" r="3.3" fill="#000"/>
<circle cx="676.40" cy="603.8" r="3.3" fill="none" stroke="rgb(80,70,0)" stroke-width="0.9" stroke-dasharray="1.2 2.25"/>
<circle cx="700.32" cy="603.8" r="3.3" fill="#000"/>
<circle cx="700.32" cy="603.8" r="3.3" fill="none" stroke="rgb(80,70,0)" stroke-width="0.9" stroke-dasharray="1.2 2.25"/>
<circle cx="724.24" cy="603.8" r="3.3" fill="#000"/>
<circle cx="724.24" cy="603.8" r="3.3" fill="none" stroke="rgb(80,70,0)" stroke-width="0.9" stroke-dasharray="1.2 2.25"/>
<circle cx="748.16" cy="603.8" r="3.3" fill="#000"/>
<circle cx="748.16" cy="603.8" r="3.3" fill="none" stroke="rgb(80,70,0)" stroke-width="0.9" stroke-dasharray="1.2 2.25"/>
<circle cx="772.08" cy="603.8" r="3.3" fill="#000"/>
<circle cx="772.08" cy="603.8" r="3.3" fill="none" stroke="rgb(80,70,0)" stroke-width="0.9" stroke-dasharray="1.2 2.25"/>
<path d="M774.08,601.5 L792.00,594" stroke="rgb(120,0,0)" stroke-width="1" stroke-dasharray="1 1.5" fill="none"/>
<circle cx="891.68" cy="593.3" r="2.6" fill="#000"/>
<circle cx="1035.20" cy="593.3" r="2.6" fill="#000"/>
<rect x="870" y="590.6" width="12" height="2" fill="rgb(40,60,0)"/>
<rect x="978" y="603.6" width="16" height="1.6" fill="#000"/>
<rect x="1044" y="590.6" width="9" height="2" fill="rgb(10,20,0)"/>
<rect x="1134" y="590.6" width="18" height="2" fill="rgb(60,90,0)"/>
</g>
</svg></div></body></html>
